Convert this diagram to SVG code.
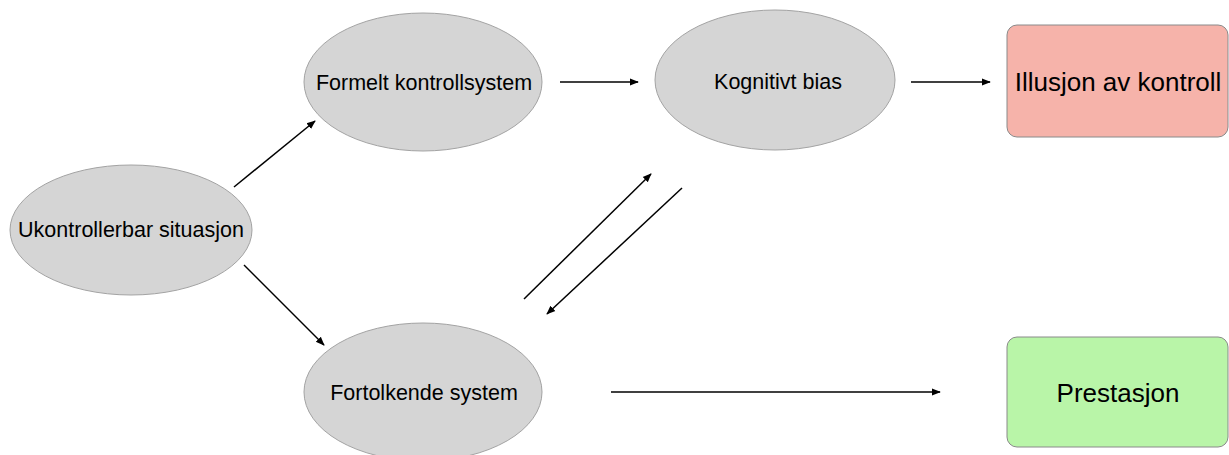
<svg xmlns="http://www.w3.org/2000/svg" width="1229" height="455" viewBox="0 0 1229 455">
<style>
.ell{fill:#d5d5d5;stroke:#a3a3a3;stroke-width:1}
.t{font-family:"Liberation Sans",Arial,sans-serif;font-size:21.5px;fill:#000;text-anchor:middle;dominant-baseline:central}
.tb{font-family:"Liberation Sans",Arial,sans-serif;font-size:26px;fill:#000;text-anchor:middle;dominant-baseline:central}
.c{stroke:#000;stroke-width:1.5;fill:none;marker-end:url(#ah)}
</style>
<defs>
<marker id="ah" viewBox="0 0 10 10" refX="9" refY="5" markerWidth="6" markerHeight="6" orient="auto" markerUnits="strokeWidth">
<path d="M0,1 L10,5 L0,9 Z" fill="#000"/>
</marker>
</defs>
<rect width="1229" height="455" fill="#fff"/>
<g id="ukontrollerbar">
<ellipse class="ell" cx="131" cy="230" rx="121" ry="65"/>
<text class="t" x="131" y="230">Ukontrollerbar situasjon</text>
</g>
<g id="formelt">
<ellipse class="ell" cx="423" cy="82" rx="119" ry="69"/>
<text class="t" x="424" y="83">Formelt kontrollsystem</text>
</g>
<g id="kognitivt">
<ellipse class="ell" cx="775" cy="80" rx="120" ry="70"/>
<text class="t" x="778" y="82">Kognitivt bias</text>
</g>
<g id="fortolkende">
<ellipse class="ell" cx="423" cy="392" rx="119" ry="69"/>
<text class="t" x="424" y="393">Fortolkende system</text>
</g>
<g id="illusjon">
<rect x="1007" y="25" width="221" height="112" rx="10" fill="#f6b3aa" stroke="#8a8a8a" stroke-width="1"/>
<text class="tb" x="1118" y="82">Illusjon av kontroll</text>
</g>
<g id="prestasjon">
<rect x="1007" y="337" width="221" height="110" rx="10" fill="#b9f5a8" stroke="#8a8a8a" stroke-width="1"/>
<text class="tb" x="1118" y="393">Prestasjon</text>
</g>
<g id="connectors">
<line class="c" x1="234" y1="187" x2="315" y2="121"/>
<line class="c" x1="244" y1="265" x2="324" y2="345"/>
<line class="c" x1="560" y1="82" x2="638" y2="82"/>
<line class="c" x1="911" y1="82" x2="990" y2="82"/>
<line class="c" x1="524" y1="299" x2="651" y2="174"/>
<line class="c" x1="682" y1="188" x2="547" y2="314"/>
<line class="c" x1="611" y1="392" x2="940" y2="392"/>
</g>
</svg>
